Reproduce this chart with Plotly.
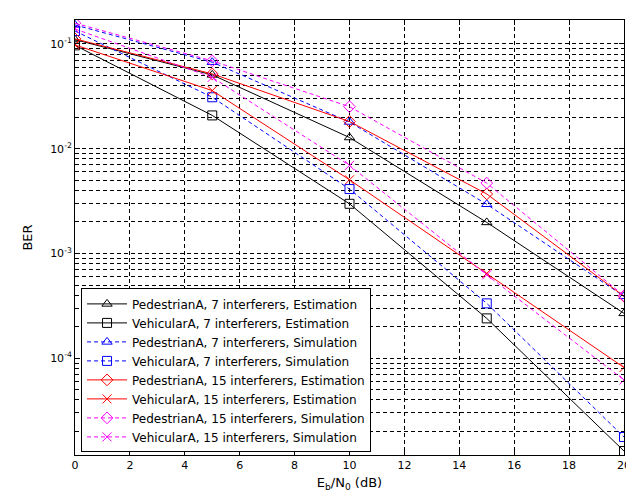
import plotly.graph_objects as go

ebn0 = [0, 5, 10, 15, 20]

ped7_est = [0.110, 0.0507, 0.0128, 0.00198, 2.68e-4]
veh7_est = [0.097, 0.0208, 0.00298, 2.4e-4, 1.3e-5]
ped7_sim = [0.152, 0.067, 0.0180, 0.00295, 3.9e-4]
veh7_sim = [0.133, 0.031, 0.00412, 3.34e-4, 1.77e-5]
ped15_est = [0.112, 0.0518, 0.0182, 0.00370, 3.9e-4]
veh15_est = [0.098, 0.0359, 0.00505, 6.45e-4, 8.15e-5]
ped15_sim = [0.158, 0.069, 0.0252, 0.00470, 3.95e-4]
veh15_sim = [0.139, 0.048, 0.00693, 6.25e-4, 6.2e-5]

names = [
    "PedestrianA, 7 interferers, Estimation",
    "VehicularA, 7 interferers, Estimation",
    "PedestrianA, 7 interferers, Simulation",
    "VehicularA, 7 interferers, Simulation",
    "PedestrianA, 15 interferers, Estimation",
    "VehicularA, 15 interferers, Estimation",
    "PedestrianA, 15 interferers, Simulation",
    "VehicularA, 15 interferers, Simulation",
]
series = [ped7_est, veh7_est, ped7_sim, veh7_sim, ped15_est, veh15_est, ped15_sim, veh15_sim]
colors = ["black", "black", "#0000ff", "#0000ff", "#ff0000", "#ff0000", "#ff00ff", "#ff00ff"]
symbols = ["triangle-up-open", "square-open", "triangle-up-open", "square-open",
           "diamond-open", "x-thin-open", "diamond-open", "x-thin-open"]
dashes = ["solid", "solid", "4px,3px", "4px,3px", "solid", "solid", "4px,3px", "4px,3px"]

ytickvals = [1e-1, 1e-2, 1e-3, 1e-4]
yticktext = ["10<sup>-1</sup>", "10<sup>-2</sup>", "10<sup>-3</sup>", "10<sup>-4</sup>"]
xtickvals = list(range(0, 21, 2))

fig = go.Figure()
for n, s, c, sym, d in zip(names, series, colors, symbols, dashes):
    fig.add_trace(go.Scatter(
        x=ebn0, y=s, name=n, mode="lines+markers",
        line=dict(color=c, width=1, dash=d),
        marker=dict(symbol=sym, size=9, color=c, line=dict(color=c, width=1)),
    ))

font = dict(family="DejaVu Sans, Liberation Sans, sans-serif", size=11, color="black")

fig.update_layout(
    width=634, height=491,
    margin=dict(l=67, r=13, t=11, b=44),
    paper_bgcolor="white", plot_bgcolor="white",
    font=font,
    showlegend=True,
    legend=dict(
        x=0.011, y=0.383, xanchor="left", yanchor="top",
        bgcolor="white", bordercolor="black", borderwidth=1,
        font=dict(family="DejaVu Sans, Liberation Sans, sans-serif", size=12, color="black"),
        tracegroupgap=0, itemwidth=40,
    ),
)
fig.update_xaxes(
    range=[0, 20], tickvals=xtickvals,
    showline=True, linecolor="black", linewidth=1, mirror="ticks",
    ticks="inside", ticklen=5, tickcolor="black",
    showgrid=True, gridcolor="black", gridwidth=1, griddash="4px,3px",
    zeroline=False,
    title=dict(text="E<sub>b</sub>/N<sub>0</sub> (dB)", standoff=6),
)
fig.update_yaxes(
    type="log", range=[-4.924, -0.771],
    tickvals=ytickvals, ticktext=yticktext,
    showline=True, linecolor="black", linewidth=1, mirror="ticks",
    ticks="inside", ticklen=5, tickcolor="black",
    showgrid=True, gridcolor="black", gridwidth=1, griddash="4px,3px",
    minor=dict(dtick="D1", showgrid=True, gridcolor="black", gridwidth=1,
               griddash="4px,3px", ticks="inside", ticklen=3, tickcolor="black"),
    zeroline=False,
    title=dict(text="BER", standoff=14),
)

fig.write_html("out.html")
